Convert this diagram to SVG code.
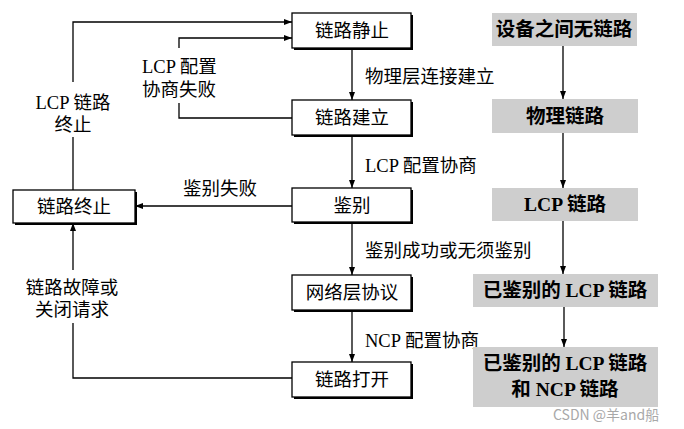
<svg xmlns="http://www.w3.org/2000/svg" width="684" height="429" viewBox="0 0 684 429">
<defs>
<marker id="ah" viewBox="0 0 8 6" refX="8" refY="3" markerWidth="8" markerHeight="6" markerUnits="userSpaceOnUse" orient="auto">
<path d="M0,0 L8,3 L0,6 Z" fill="#000"/>
</marker>
<style>
.t{font-family:"Liberation Serif","Noto Sans CJK SC",serif;font-size:18.5px;fill:#000}
.b{font-family:"Liberation Serif","Noto Sans CJK SC",serif;font-size:19.5px;font-weight:bold;fill:#000}
.c{text-anchor:middle}
.box{fill:#fff;stroke:#000;stroke-width:1.3}
.sh{fill:#000}
.g{fill:#cecece}
.ln{fill:none;stroke:#000;stroke-width:1.3}
.wm{font-family:"Noto Sans CJK SC",sans-serif;font-size:14px;fill:#a8a8a8}
</style>
</defs>
<rect width="684" height="429" fill="#fff"/>

<g id="connectors">
<line class="ln" x1="352" y1="48" x2="352" y2="100" marker-end="url(#ah)"/>
<line class="ln" x1="352" y1="135" x2="352" y2="188" marker-end="url(#ah)"/>
<line class="ln" x1="352" y1="222" x2="352" y2="275" marker-end="url(#ah)"/>
<line class="ln" x1="352" y1="310" x2="352" y2="362" marker-end="url(#ah)"/>
<polyline class="ln" points="73,190 73,137"/>
<polyline class="ln" points="73,82 73,22 292,22" marker-end="url(#ah)"/>
<polyline class="ln" points="292,118 179,118 179,103"/>
<polyline class="ln" points="179,48 179,38 292,38" marker-end="url(#ah)"/>
<line class="ln" x1="292" y1="206" x2="135" y2="206" marker-end="url(#ah)"/>
<polyline class="ln" points="292,378 73,378 73,323"/>
<polyline class="ln" points="73,270 73,223" marker-end="url(#ah)"/>
<line class="ln" x1="563" y1="46" x2="563" y2="99" marker-end="url(#ah)"/>
<line class="ln" x1="563" y1="133" x2="563" y2="188" marker-end="url(#ah)"/>
<line class="ln" x1="563" y1="221" x2="563" y2="274" marker-end="url(#ah)"/>
<line class="ln" x1="564" y1="307" x2="564" y2="347" marker-end="url(#ah)"/>
<text class="t" x="365" y="83">物理层连接建立</text>
<text class="t" x="365" y="172">LCP 配置协商</text>
<text class="t" x="365" y="257">鉴别成功或无须鉴别</text>
<text class="t" x="365" y="347">NCP 配置协商</text>
<text class="t" x="183" y="195">鉴别失败</text>
<text class="t" x="142" y="73">LCP 配置</text>
<text class="t" x="142" y="96">协商失败</text>
<text class="t c" x="73" y="109">LCP 链路</text>
<text class="t c" x="73" y="131">终止</text>
<text class="t c" x="72" y="294">链路故障或</text>
<text class="t c" x="72" y="316">关闭请求</text>
</g>

<g id="n_static">
<rect class="sh" x="294" y="15" width="119" height="35"/>
<rect class="box" x="292" y="13" width="119" height="35"/>
<text class="t c" x="352" y="37">链路静止</text>
</g>
<g id="n_establish">
<rect class="sh" x="294" y="102" width="119" height="35"/>
<rect class="box" x="292" y="100" width="119" height="35"/>
<text class="t c" x="352" y="124">链路建立</text>
</g>
<g id="n_auth">
<rect class="sh" x="294" y="190" width="119" height="34"/>
<rect class="box" x="292" y="188" width="119" height="34"/>
<text class="t c" x="352" y="212">鉴别</text>
</g>
<g id="n_network">
<rect class="sh" x="294" y="277" width="119" height="35"/>
<rect class="box" x="292" y="275" width="119" height="35"/>
<text class="t c" x="352" y="299">网络层协议</text>
</g>
<g id="n_open">
<rect class="sh" x="294" y="364" width="119" height="35"/>
<rect class="box" x="292" y="362" width="119" height="35"/>
<text class="t c" x="352" y="386">链路打开</text>
</g>
<g id="n_terminate">
<rect class="sh" x="15" y="192" width="122" height="33"/>
<rect class="box" x="13" y="190" width="122" height="33"/>
<text class="t c" x="74" y="213">链路终止</text>
</g>

<g id="s_nolink">
<rect class="g" x="492" y="13" width="145" height="33"/>
<text class="b c" x="564" y="36">设备之间无链路</text>
</g>
<g id="s_phys">
<rect class="g" x="492" y="99" width="146" height="34"/>
<text class="b c" x="565" y="123">物理链路</text>
</g>
<g id="s_lcp">
<rect class="g" x="492" y="188" width="146" height="33"/>
<text class="b c" x="565" y="211">LCP 链路</text>
</g>
<g id="s_authlcp">
<rect class="g" x="473" y="274" width="185" height="33"/>
<text class="b c" x="565" y="297">已鉴别的 LCP 链路</text>
</g>
<g id="s_ncp">
<rect class="g" x="473" y="347" width="185" height="60"/>
<text class="b c" x="565" y="370">已鉴别的 LCP 链路</text>
<text class="b c" x="565" y="396">和 NCP 链路</text>
</g>

<text class="wm" x="553" y="420">CSDN @羊and船</text>
</svg>
